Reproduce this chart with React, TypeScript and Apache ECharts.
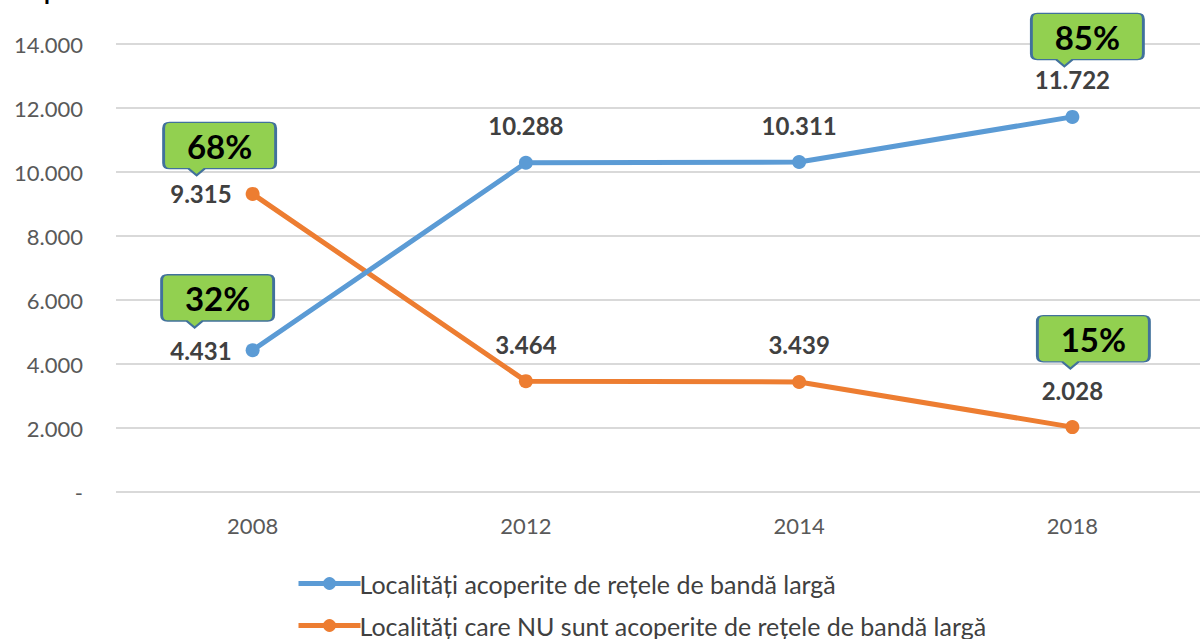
import React, { useEffect, useRef } from "react";
import * as echarts from "echarts";

const years = ["2008", "2012", "2014", "2018"];
const covered = [4431, 10288, 10311, 11722];
const notCovered = [9315, 3464, 3439, 2028];
const coveredPct = ["32%", "", "", "85%"];
const notCoveredPct = ["68%", "", "", "15%"];
const seriesNames = [
  "Localități acoperite de rețele de bandă largă",
  "Localități care NU sunt acoperite de rețele de bandă largă",
];

const FONT = "Lato, 'Open Sans', sans-serif";
const CALLOUT =
  "path://M6,0 H106 Q112,0 112,6 V42 Q112,48 106,48 H41 L33,55 L25,48 H6 Q0,48 0,42 V6 Q0,0 6,0 Z";

const fmt = (v: number) => {
  if (v === 0) return "-";
  const s = String(Math.round(v));
  return s.replace(/\B(?=(\d{3})+(?!\d))/g, ".");
};

function calloutPoints(values: number[], pcts: string[], offsets: number[][]) {
  const pts: any[] = [];
  values.forEach((v, i) => {
    if (!pcts[i]) return;
    pts.push({
      coord: [i, v],
      value: pcts[i],
      symbolOffset: offsets[i],
    });
  });
  return pts;
}

export default function App() {
  const ref = useRef<HTMLDivElement>(null);
  useEffect(() => {
    if (!ref.current) return;
    const chart = echarts.init(ref.current, null, { renderer: "svg" });
    const valueLabel = (pos: string) => ({
      show: true,
      position: pos,
      distance: pos === "left" ? 14 : 18,
      formatter: (p: any) => fmt(p.value),
      fontFamily: FONT,
      fontWeight: "bold",
      fontSize: 24,
      color: "#404040",
    });
    const markPointBase = {
      symbol: CALLOUT,
      symbolSize: [112, 53],
      symbolKeepAspect: false,
      itemStyle: { color: "#92D050", borderColor: "#41719C", borderWidth: 2 },
      label: {
        show: true,
        position: "inside",
        offset: [0, -3],
        formatter: (p: any) => p.value,
        fontFamily: FONT,
        fontWeight: "bold",
        fontSize: 33,
        color: "#000000",
      },
      silent: true,
    };
    const mkData = (values: number[], labelsPos: string[]) =>
      values.map((v, i) => ({ value: v, label: valueLabel(labelsPos[i]) }));

    chart.setOption({
      animation: false,
      grid: { left: 116, right: 11, top: 44, bottom: 147, containLabel: false },
      graphic: [
        {
          type: "text",
          left: 44,
          top: -22,
          style: { text: "p", fontFamily: FONT, fontWeight: "bold", fontSize: 24, fill: "#000" },
        },
      ],
      legend: {
        orient: "vertical",
        left: 296,
        top: 571,
        padding: 0,
        itemGap: 17,
        itemWidth: 62,
        itemHeight: 16,
        lineStyle: { width: 5 },
        textStyle: { fontFamily: FONT, fontSize: 25, color: "#404040", padding: [0, 0, 0, -6] },
        data: seriesNames,
      },
      xAxis: {
        type: "category",
        data: years,
        boundaryGap: true,
        axisLine: { show: false },
        axisTick: { show: false },
        axisLabel: { fontFamily: FONT, fontSize: 22, color: "#595959", margin: 22 },
      },
      yAxis: {
        type: "value",
        min: 0,
        max: 14000,
        interval: 2000,
        axisLine: { show: false },
        axisTick: { show: false },
        splitLine: { lineStyle: { color: "#D9D9D9", width: 2 } },
        axisLabel: {
          fontFamily: FONT,
          fontSize: 22,
          color: "#595959",
          margin: 33,
          formatter: (v: number) => fmt(v),
        },
      },
      series: [
        {
          name: seriesNames[0],
          type: "line",
          data: mkData(covered, ["left", "top", "top", "top"]),
          symbol: "circle",
          symbolSize: 14,
          lineStyle: { width: 5, color: "#5B9BD5" },
          itemStyle: { color: "#5B9BD5" },
          z: 3,
          markPoint: {
            ...markPointBase,
            data: calloutPoints(covered, coveredPct, [[-35, -49], [0, 0], [0, 0], [15, -77]]),
          },
        },
        {
          name: seriesNames[1],
          type: "line",
          data: mkData(notCovered, ["left", "top", "top", "top"]),
          symbol: "circle",
          symbolSize: 14,
          lineStyle: { width: 5, color: "#ED7D31" },
          itemStyle: { color: "#ED7D31" },
          z: 2,
          markPoint: {
            ...markPointBase,
            data: calloutPoints(notCovered, notCoveredPct, [[-33, -45], [0, 0], [0, 0], [21, -85]]),
          },
        },
      ],
    });
    return () => chart.dispose();
  }, []);
  return (
    <div
      style={{ position: "absolute", left: 0, top: 0, width: 1200, height: 639, overflow: "hidden", background: "#fff" }}
    >
      <div ref={ref} style={{ width: 1220, height: 639 }} />
    </div>
  );
}
